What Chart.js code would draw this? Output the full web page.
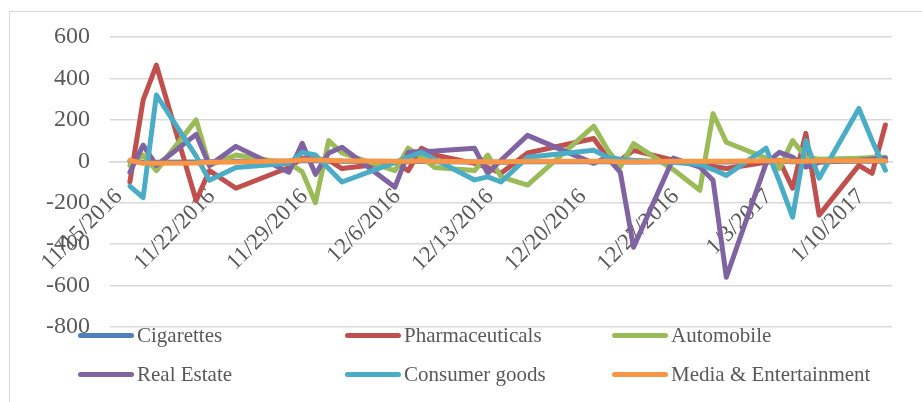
<!DOCTYPE html>
<html>
<head>
<meta charset="utf-8">
<script src="https://cdn.jsdelivr.net/npm/chart.js@4.4.0/dist/chart.umd.min.js"></script>
<style>
html,body{margin:0;padding:0;background:#fff;}
#wrap{position:relative;width:922px;height:402px;overflow:hidden;font-family:"Liberation Serif","Times New Roman",serif;}
#frame{position:absolute;left:9px;top:11px;width:940px;height:420px;border:1.5px solid #d9d9d9;box-sizing:border-box;}
#c{position:absolute;left:0;top:0;}
#legend{position:absolute;left:0;top:0;width:922px;height:402px;pointer-events:none;}
.item{position:absolute;display:flex;align-items:center;font-size:21px;color:#595959;white-space:nowrap;height:24px;transform:translateY(-50%);}
.swatch{width:56px;height:5px;border-radius:3px;margin-right:3px;}
</style>
</head>
<body>
<div id="wrap">
  <div id="frame"></div>
  <canvas id="c" width="922" height="402"></canvas>
  <div id="legend"></div>
</div>
<script>
// ---- data ----
const pointDates = ['2016-11-15','2016-11-16','2016-11-17','2016-11-20','2016-11-21','2016-11-23','2016-11-27','2016-11-28','2016-11-29','2016-11-30','2016-12-01','2016-12-05','2016-12-06','2016-12-07','2016-12-08','2016-12-11','2016-12-12','2016-12-13','2016-12-15','2016-12-20','2016-12-21','2016-12-22','2016-12-23','2016-12-26','2016-12-28','2016-12-29','2016-12-30','2017-01-02','2017-01-03','2017-01-04','2017-01-05','2017-01-06','2017-01-09','2017-01-10','2017-01-11'];

const seriesNames = ['Cigarettes','Pharmaceuticals','Automobile','Real Estate','Consumer goods','Media & Entertainment'];

const cigarettes     = [0,-5,-5,-3,-2,0,0,2,2,0,0,-2,-2,0,-2,-3,-3,-5,-2,-2,-2,-3,-3,-2,-2,-2,-3,0,0,-2,-2,0,0,0,0];
const pharmaceuticals= [-100,295,464,-190,-45,-130,-30,15,10,5,-35,-5,-45,63,30,-10,-30,-58,40,110,20,5,53,5,-20,-25,-35,-5,5,-130,135,-260,-20,-58,175];
const automobile     = [-20,30,-45,200,-20,30,-10,-50,-200,100,40,-45,63,20,-30,-45,30,-75,-115,170,60,-28,85,-40,-140,230,92,15,-35,100,20,10,15,18,20];
const realEstate     = [-53,78,-20,130,-20,72,-53,87,-63,40,68,-125,43,48,50,63,-58,5,125,-10,20,-53,-415,15,-28,-92,-560,-10,43,20,-28,-5,5,10,15];
const consumerGoods  = [-120,-175,320,25,-92,-30,-10,43,30,-35,-100,-5,20,43,10,-90,-75,-100,20,53,20,10,5,-5,-15,-40,-68,63,-97,-270,100,-82,255,100,-43];
const media          = [5,-10,-10,-8,-5,-3,3,6,6,4,2,0,0,2,0,-2,-2,-3,0,0,0,-2,-2,0,0,0,0,2,2,0,0,2,3,3,3];

const tickLabels = ['11/15/2016','11/22/2016','11/29/2016','12/6/2016','12/13/2016','12/20/2016','12/27/2016','1/3/2017','1/10/2017'];
const yTicks = [-800,-600,-400,-200,0,200,400,600];

const colors = ['#4F81BD','#C0504D','#9BBB59','#8064A2','#4BACC6','#F79646'];

// ---- helpers ----
const base = Date.UTC(2016,10,15);
const dayOfISO = s => (Date.parse(s + 'T00:00:00Z') - base) / 86400000;
const dayOfMDY = s => { const [m,d,y] = s.split('/').map(Number); return (Date.UTC(y,m-1,d) - base) / 86400000; };
const xs = pointDates.map(dayOfISO);
const tickDays = tickLabels.map(dayOfMDY);

const allSeries = [cigarettes, pharmaceuticals, automobile, realEstate, consumerGoods, media];
const datasets = allSeries.map((vals, i) => ({
  label: seriesNames[i],
  data: vals.map((v, k) => ({x: xs[k], y: v})),
  borderColor: colors[i],
  backgroundColor: colors[i],
  borderWidth: 5,
  pointRadius: 0,
  pointHoverRadius: 0,
  tension: 0,
  fill: false,
  borderCapStyle: 'round',
  borderJoinStyle: 'round',
  order: allSeries.length - 1 - i
}));

const family = "'Liberation Serif','Times New Roman',serif";

new Chart(document.getElementById('c'), {
  type: 'line',
  data: {datasets},
  options: {
    responsive: false,
    animation: false,
    devicePixelRatio: 1,
    layout: {padding: {left: 10, right: 30, top: 37, bottom: 75}},
    plugins: {legend: {display: false}, tooltip: {enabled: false}},
    scales: {
      x: {
        type: 'linear',
        position: {y: 0},
        min: xs[0] - 1.5,
        max: xs[xs.length - 1] + 0.5,
        grid: {display: false, drawTicks: false},
        border: {display: true, color: '#d9d9d9', width: 1.5},
        afterBuildTicks: (s) => { s.ticks = tickDays.map(v => ({value: v})); },
        ticks: {
          autoSkip: false,
          minRotation: 45,
          maxRotation: 45,
          padding: 22,
          labelOffset: -11,
          color: '#595959',
          font: {family, size: 23},
          callback: (v, idx) => tickLabels[idx]
        }
      },
      y: {
        position: 'left',
        min: yTicks[0],
        max: yTicks[yTicks.length - 1],
        afterBuildTicks: (s) => { s.ticks = yTicks.map(v => ({value: v})); },
        afterFit: (s) => { s.width = 100; },
        grid: {color: '#d9d9d9', lineWidth: 1.5, drawTicks: false},
        border: {display: false},
        ticks: {padding: 20, color: '#595959', font: {family, size: 24}}
      }
    }
  }
});

// ---- legend (HTML, 3 columns x 2 rows) ----
const legendPos = [[78,335],[345,335],[612,335],[78,374],[345,374],[612,374]];
const lg = document.getElementById('legend');
seriesNames.forEach((n, i) => {
  const d = document.createElement('div');
  d.className = 'item';
  d.style.left = legendPos[i][0] + 'px';
  d.style.top = legendPos[i][1] + 'px';
  const sw = document.createElement('span');
  sw.className = 'swatch';
  sw.style.background = colors[i];
  const t = document.createElement('span');
  t.textContent = n;
  d.appendChild(sw); d.appendChild(t);
  lg.appendChild(d);
});
</script>
</body>
</html>
